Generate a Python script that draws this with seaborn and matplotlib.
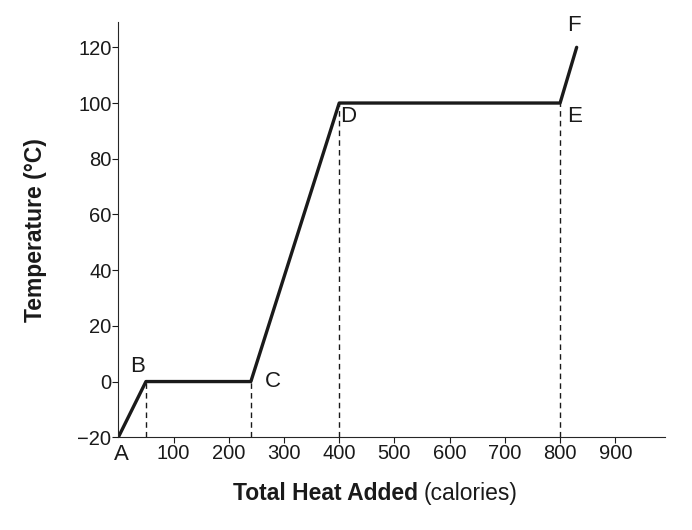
import matplotlib
matplotlib.use("Agg")
import matplotlib.pyplot as plt
import seaborn as sns

# heating curve points
labels = ["A", "B", "C", "D", "E", "F"]
heat = [0, 50, 240, 400, 800, 830]
temp = [-20, 0, 0, 100, 100, 120]
xticks = [100, 200, 300, 400, 500, 600, 700, 800, 900]
yticks = [-20, 0, 20, 40, 60, 80, 100, 120]

sns.set_style("ticks")
plt.rcParams['font.family'] = ['Liberation Sans', 'DejaVu Sans']

fig = plt.figure(figsize=(6.92, 5.3), dpi=100)
ax = fig.add_axes([0.171, 0.175, 0.79, 0.783])

sns.lineplot(x=heat, y=temp, ax=ax, color="#1a1a1a", linewidth=2.4, sort=False)
for x, y in zip(heat[1:5], temp[1:5]):
    ax.plot([x, x], [-20, y], ls=(0, (4, 3)), color="#1a1a1a", lw=1)

offsets = {"A": (2, -5, "center", "top"), "B": (-6, 3, "center", "bottom"),
           "C": (10, 0, "left", "center"), "D": (1, -2, "left", "top"),
           "E": (5, -2, "left", "top"), "F": (-2, 8, "center", "bottom")}
for lab, x, y in zip(labels, heat, temp):
    dx, dy, ha, va = offsets[lab]
    ax.annotate(lab, (x, y), xytext=(dx, dy), textcoords="offset points",
                ha=ha, va=va, fontsize=16, color="#1a1a1a")

ax.set_xlim(0, 990)
ax.set_ylim(-20, 129)
ax.set_xticks(xticks)
ax.set_yticks(yticks)
ax.set_yticklabels(["\u221220" if v < 0 else str(v) for v in yticks])
ax.tick_params(labelsize=14.5, colors="#1a1a1a", length=4, pad=1)
sns.despine(ax=ax)

ax.text(0.559, -0.135, "Total Heat Added ", transform=ax.transAxes, ha="right",
        va="center", fontsize=16.5, fontweight="bold", color="#1a1a1a")
ax.text(0.559, -0.135, "(calories)", transform=ax.transAxes, ha="left",
        va="center", fontsize=16.5, color="#1a1a1a")
ax.text(-0.152, 0.5, "Temperature (\u00b0C)", transform=ax.transAxes, rotation=90,
        ha="center", va="center", fontsize=16.5, fontweight="bold", color="#1a1a1a")

fig.savefig("out.png", dpi=100)
